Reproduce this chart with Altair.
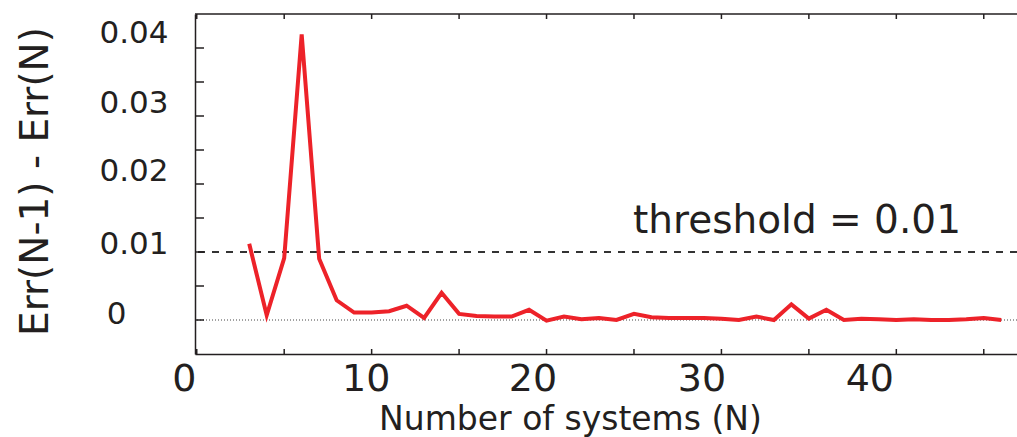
import altair as alt
import pandas as pd

# Drop in error when going from N-1 to N systems
systems = list(range(3, 47))
err_diff = [
    0.0112, 0.0007, 0.0091, 0.0420, 0.0090, 0.0029, 0.0011, 0.0011,
    0.0013, 0.0021, 0.0003, 0.0040, 0.0009, 0.0006, 0.0005, 0.0005,
    0.0015, -0.0001, 0.0005, 0.0001, 0.0003, 0.0000, 0.0009, 0.0004,
    0.0003, 0.0003, 0.0003, 0.0002, 0.0000, 0.0005, 0.0000, 0.0023,
    0.0002, 0.0015, 0.0000, 0.0002, 0.0001, 0.0000, 0.0001, 0.0000,
    0.0000, 0.0001, 0.0003, 0.0000,
]

threshold = 0.01
threshold_label = "threshold = 0.01"
threshold_label_at = 25  # N where the label starts

x_ticks = [0, 5, 10, 15, 20, 25, 30, 35, 40, 45]
y_ticks = [0, 0.005, 0.01, 0.015, 0.02, 0.025, 0.03, 0.035, 0.04]

FONT = "DejaVu Sans"
INK = "#231f20"
RED = "#ed2229"
W, H = 822, 340

line_df = pd.DataFrame({"N": systems, "diff": err_diff})
zero_df = pd.DataFrame({"v": [0.0]})
thr_df = pd.DataFrame({"v": [threshold]})
label_df = pd.DataFrame({"N": [threshold_label_at], "v": [threshold], "label": [threshold_label]})
xt_df = pd.DataFrame({"t": x_ticks})
yt_df = pd.DataFrame({"t": y_ticks})

x_scale = alt.Scale(domain=[-0.1, 46.9], nice=False, zero=False)
y_scale = alt.Scale(domain=[-0.005, 0.045], nice=False, zero=False)

# per-label nudges for the tick labels
x_shift = {0: -13, 10: -6, 20: -14, 30: -20, 40: -27}
y_shift = {0: -6, 0.01: -8, 0.02: -12.5, 0.03: -13, 0.04: -15}

x_label_offset = {
    "condition": [{"test": f"datum.value == {k}", "value": v} for k, v in x_shift.items()],
    "value": 0,
}
y_label_offset = {
    "condition": [{"test": f"abs(datum.value - {k}) < 1e-9", "value": v} for k, v in y_shift.items()],
    "value": 0,
}
y_label_padding = {
    "condition": {"test": "datum.value == 0", "value": 69},
    "value": 27,
}

axis_common = dict(
    grid=False,
    ticks=False,
    tickSize=0,
    domainColor=INK,
    domainWidth=1.5,
    labelFont=FONT,
    labelColor=INK,
    titleFont=FONT,
    titleColor=INK,
    titleFontWeight="normal",
    labelFlush=False,
    labelOverlap=False,
)

x_axis = alt.Axis(
    values=x_ticks,
    labelExpr="datum.value % 10 === 0 ? datum.label : ''",
    labelFontSize=38,
    labelPadding=6,
    labelOffset=x_label_offset,
    title="Number of systems (N)",
    titleFontSize=33,
    titleX=375,
    titleY=75,
    titleAlign="center",
    titleBaseline="alphabetic",
    **axis_common,
)

y_axis = alt.Axis(
    values=y_ticks,
    labelExpr=(
        "abs(datum.value*100 - round(datum.value*100)) < 1e-6 ? "
        "(datum.value == 0 ? '0' : format(datum.value, '.2f')) : ''"
    ),
    labelFontSize=31,
    labelAlign="right",
    labelBaseline="middle",
    labelPadding=y_label_padding,
    labelOffset=y_label_offset,
    title="Err(N-1) - Err(N)",
    titleFontSize=39,
    titleAngle=270,
    titleX=-148,
    titleY=167,
    titleAlign="center",
    titleBaseline="alphabetic",
    **axis_common,
)

tick_style = dict(color=INK, strokeWidth=1.5)

# inward tick marks on the bottom, top and left edges
x_ticks_bottom = alt.Chart(xt_df).mark_rule(**tick_style).encode(
    x=alt.X("t:Q", scale=x_scale, axis=None),
    y=alt.value(H),
    y2=alt.value(H - 5),
)
x_ticks_top = alt.Chart(xt_df).mark_rule(**tick_style).encode(
    x=alt.X("t:Q", scale=x_scale, axis=None),
    y=alt.value(0),
    y2=alt.value(5),
)
y_ticks_left = alt.Chart(yt_df).mark_rule(**tick_style).encode(
    y=alt.Y("t:Q", scale=y_scale, axis=None),
    x=alt.value(0),
    x2=alt.value(9),
)
top_spine = alt.Chart(zero_df).mark_rule(color=INK, strokeWidth=1.5).encode(
    y=alt.value(0),
)

zero_line = alt.Chart(zero_df).mark_rule(
    color="#444444", strokeWidth=1, strokeDash=[1, 2]
).encode(y=alt.Y("v:Q", scale=y_scale, axis=None))

thr_line = alt.Chart(thr_df).mark_rule(
    color="#333333", strokeWidth=2, strokeDash=[7, 7]
).encode(y=alt.Y("v:Q", scale=y_scale, axis=None))

err_line = alt.Chart(line_df).mark_line(color=RED, strokeWidth=4).encode(
    x=alt.X("N:Q", scale=x_scale, axis=x_axis),
    y=alt.Y("diff:Q", scale=y_scale, axis=y_axis),
)

thr_text = alt.Chart(label_df).mark_text(
    align="left", baseline="alphabetic", dx=-1, dy=-19,
    font=FONT, fontSize=39, color=INK,
).encode(
    x=alt.X("N:Q", scale=x_scale, axis=None),
    y=alt.Y("v:Q", scale=y_scale, axis=None),
    text="label:N",
)

chart = (
    alt.layer(
        zero_line, thr_line, x_ticks_bottom, x_ticks_top, y_ticks_left,
        top_spine, err_line, thr_text,
    )
    .resolve_axis(x="independent", y="independent")
    .properties(
        width=W,
        height=H,
        autosize=alt.AutoSizeParams(type="none"),
        padding={"left": 195, "top": 14, "right": 0, "bottom": 83},
        background="white",
    )
    .configure_view(stroke=None)
)

chart.save("out.html", embed_options={"renderer": "svg", "actions": False})
